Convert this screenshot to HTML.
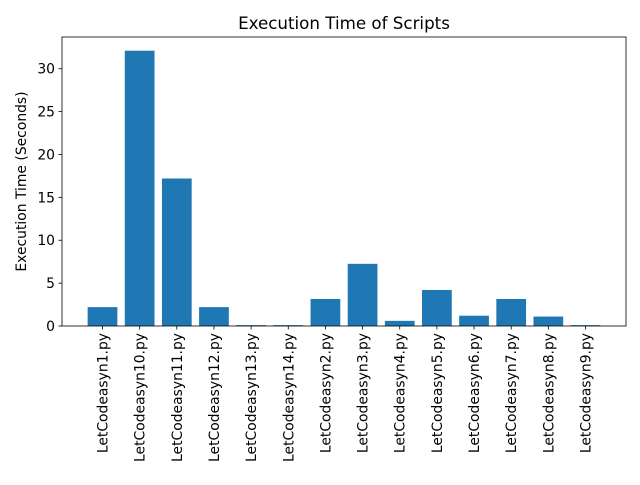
<!DOCTYPE html>
<html><head><meta charset="utf-8"><style>
body{margin:0;background:#fff;}
svg text{font-family:"DejaVu Sans","Liberation Sans",sans-serif;fill:#000;}
</style></head><body>
<svg id="chart" width="640" height="480" xmlns="http://www.w3.org/2000/svg">
<rect width="640" height="480" fill="#fff"/>
<g id="bars"></g>
<g id="axes"></g>
<text x="344" y="29" text-anchor="middle" font-size="16.7">Execution Time of Scripts</text>
<text transform="translate(26,181.5) rotate(-90)" text-anchor="middle" font-size="13.9">Execution Time (Seconds)</text>
</svg>
<script>
const categories=["LetCodeasyn1.py","LetCodeasyn10.py","LetCodeasyn11.py","LetCodeasyn12.py","LetCodeasyn13.py","LetCodeasyn14.py","LetCodeasyn2.py","LetCodeasyn3.py","LetCodeasyn4.py","LetCodeasyn5.py","LetCodeasyn6.py","LetCodeasyn7.py","LetCodeasyn8.py","LetCodeasyn9.py"];
const values=[2.2,32.1,17.2,2.2,0.1,0.1,3.15,7.25,0.6,4.2,1.2,3.15,1.1,0.1];
const yTicks=[0,5,10,15,20,25,30];
const L=62,R=626,T=37,B=326;
const yMax=33.7;
const xMin=-1.09,xMax=categories.length-1+1.09;
const xs=i=>L+(i-xMin)/(xMax-xMin)*(R-L);
const ys=v=>B-v/yMax*(B-T);
const NS="http://www.w3.org/2000/svg";
const bars=document.getElementById('bars'),axes=document.getElementById('axes');
function mk(tag,attrs,parent){const e=document.createElementNS(NS,tag);for(const k in attrs)e.setAttribute(k,attrs[k]);parent.appendChild(e);return e;}
const bw=0.8*(R-L)/(xMax-xMin);
values.forEach((v,i)=>{
 const r=mk('rect',{x:xs(i)-bw/2,y:ys(v),width:bw,height:B-ys(v),fill:'#1f77b4'},bars);
 
 
 mk('line',{x1:xs(i),x2:xs(i),y1:B,y2:B+3.5,stroke:'#000','stroke-width':0.8},axes);
 const t=mk('text',{transform:`translate(${xs(i)+5},${B+7}) rotate(-90)`,'text-anchor':'end','font-size':13.9},axes);
 t.textContent=categories[i];
 
 
});
yTicks.forEach(v=>{
 mk('line',{x1:L-3.5,x2:L,y1:ys(v),y2:ys(v),stroke:'#000','stroke-width':0.8},axes);
 const t=mk('text',{x:L-7,y:ys(v)+5,'text-anchor':'end','font-size':13.9},axes);
 t.textContent=v;
 
 
});
const f=mk('rect',{x:L,y:T,width:R-L,height:B-T,fill:'none',stroke:'#000','stroke-width':0.8},axes);


</script>
</body></html>
